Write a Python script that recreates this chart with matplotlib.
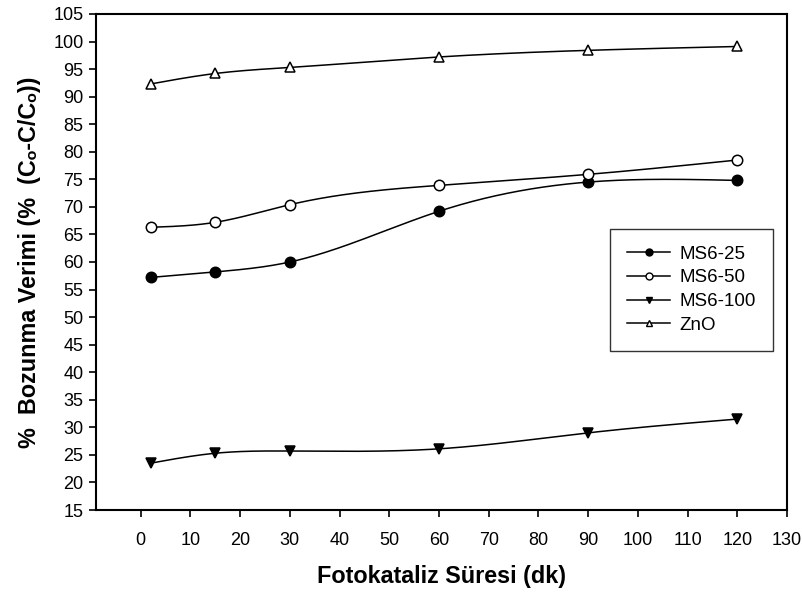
import numpy as np
import matplotlib
matplotlib.use("Agg")
import matplotlib.pyplot as plt

plt.rcParams['font.family'] = ['Liberation Sans', 'DejaVu Sans']

# Irradiation time (min)
time_min = [2, 15, 30, 60, 90, 120]

# Degradation efficiency (%)
ms6_25 = [57.2, 58.2, 60.0, 69.2, 74.5, 74.8]
ms6_50 = [66.3, 67.2, 70.4, 73.9, 75.9, 78.5]
ms6_100 = [23.5, 25.3, 25.7, 26.1, 29.0, 31.5]
zno = [92.3, 94.2, 95.3, 97.2, 98.4, 99.1]

series_names = ["MS6-25", "MS6-50", "MS6-100", "ZnO"]
x_ticks = list(range(0, 131, 10))
y_ticks = list(range(15, 106, 5))


def natural_spline(x, y, n=300):
    """Smooth connecting curve (natural cubic spline) through the points."""
    x = np.asarray(x, float)
    y = np.asarray(y, float)
    k = len(x)
    h = np.diff(x)
    A = np.zeros((k, k))
    b = np.zeros(k)
    A[0, 0] = A[-1, -1] = 1.0
    for i in range(1, k - 1):
        A[i, i - 1] = h[i - 1]
        A[i, i] = 2 * (h[i - 1] + h[i])
        A[i, i + 1] = h[i]
        b[i] = 6 * ((y[i + 1] - y[i]) / h[i] - (y[i] - y[i - 1]) / h[i - 1])
    m = np.linalg.solve(A, b)
    xs = np.linspace(x[0], x[-1], n)
    idx = np.clip(np.searchsorted(x, xs) - 1, 0, k - 2)
    x0, x1 = x[idx], x[idx + 1]
    hh = x1 - x0
    t0 = x1 - xs
    t1 = xs - x0
    ys = (m[idx] * t0 ** 3 / (6 * hh) + m[idx + 1] * t1 ** 3 / (6 * hh)
          + (y[idx] / hh - m[idx] * hh / 6) * t0
          + (y[idx + 1] / hh - m[idx + 1] * hh / 6) * t1)
    return xs, ys


fig = plt.figure(figsize=(8.02, 5.92), dpi=100)
ax = fig.add_axes([0.1197, 0.1385, 0.8616, 0.8379])

styles = [
    dict(marker='o', mfc='black'),
    dict(marker='o', mfc='white'),
    dict(marker='v', mfc='black'),
    dict(marker='^', mfc='white'),
]

for name, vals, st in zip(series_names, [ms6_25, ms6_50, ms6_100, zno], styles):
    xs, ys = natural_spline(time_min, vals)
    ax.plot(xs, ys, color='black', lw=1.1, zorder=2)
    ax.plot(time_min, vals, linestyle='none', marker=st['marker'],
            mfc=st['mfc'], mec='black', mew=1.1, ms=7.5, zorder=3)

# legend entries: line through marker
handles = [plt.Line2D([], [], color='black', lw=1.1, marker=st['marker'],
                      mfc=st['mfc'], mec='black', mew=1.0, ms=5)
           for st in styles]
leg = ax.legend(handles, series_names, loc='upper left',
                bbox_to_anchor=(0.744, 0.567), frameon=True, fancybox=False,
                edgecolor='black', fontsize=13.5, handlelength=2.3,
                labelspacing=0.35, borderpad=0.9, handletextpad=0.5,
                borderaxespad=0)
leg.get_frame().set_linewidth(1.0)

ax.set_xlim(-9, 130)
ax.set_ylim(15, 105)
ax.set_xticks(x_ticks)
ax.set_yticks(y_ticks)
ax.tick_params(direction='out', length=5, width=1.2, labelsize=13,
               colors='black', pad=4)
ax.tick_params(axis='x', pad=11)
for sp in ax.spines.values():
    sp.set_linewidth(1.5)

ax.set_xlabel("Fotokataliz Süresi (dk)", fontsize=16.8, fontweight='bold',
              labelpad=11)
ax.set_ylabel("%  Bozunma Verimi (%  (C\u2092-C/C\u2092))", fontsize=16.8,
              fontweight='bold', labelpad=9)

fig.savefig("out.png", dpi=100)
